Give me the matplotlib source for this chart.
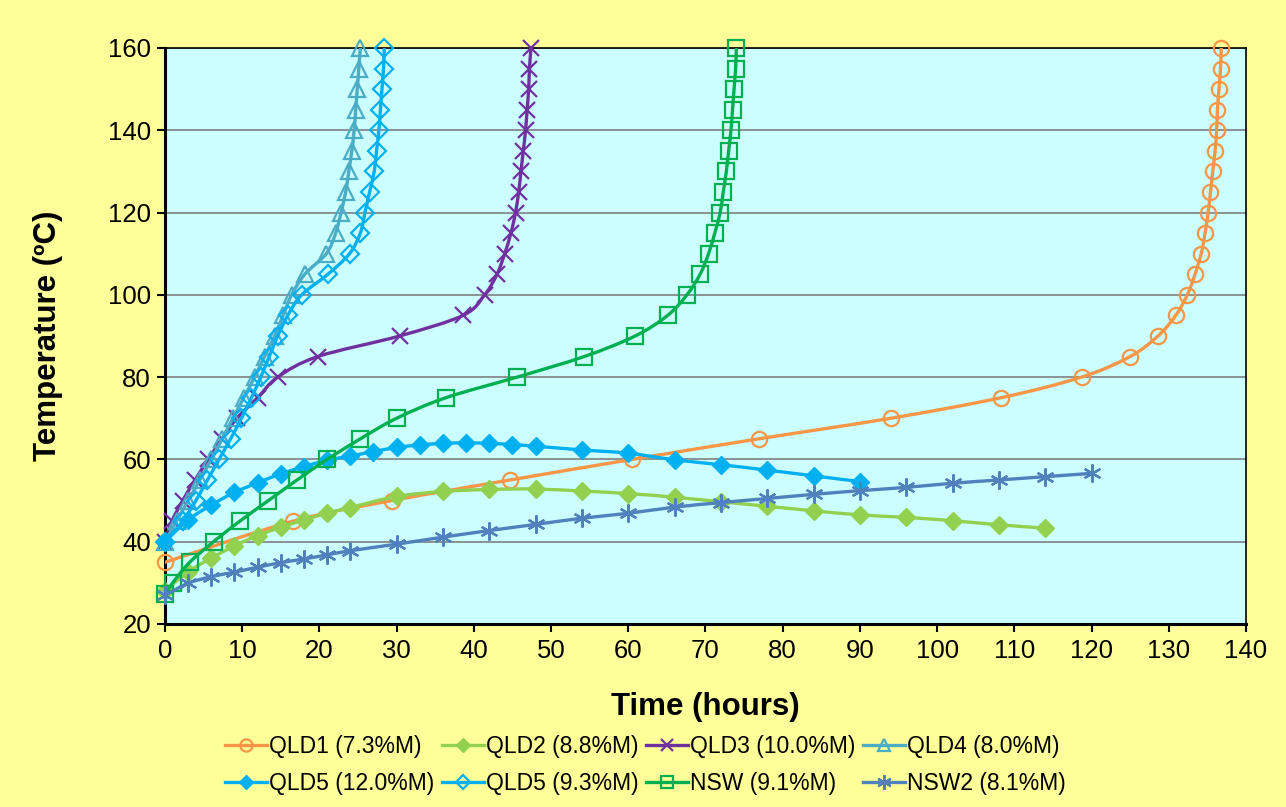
import matplotlib
matplotlib.use("Agg")
import matplotlib.pyplot as plt
from matplotlib.path import Path
from matplotlib.patches import PathPatch
from matplotlib.lines import Line2D
import numpy as np

plt.rcParams['font.family'] = ['Liberation Sans', 'DejaVu Sans']

# ---------------- data ----------------
steps_40_160 = [40, 45, 50, 55, 60, 65, 70, 75, 80, 85, 90, 95, 100, 105, 110,
                115, 120, 125, 130, 135, 140, 145, 150, 155, 160]

qld1_h = [0, 16.6, 29.4, 44.7, 60.5, 76.9, 94.0, 108.3, 118.7, 125.0, 128.6, 130.9,
          132.4, 133.4, 134.2, 134.7, 135.1, 135.4, 135.7, 136.0, 136.2, 136.3,
          136.5, 136.7, 136.8]
qld1_t = [35, 45, 50, 55, 60, 65, 70, 75, 80, 85, 90, 95, 100, 105, 110, 115, 120,
          125, 130, 135, 140, 145, 150, 155, 160]

qld2_h = [0, 3, 6, 9, 12, 15, 18, 21, 24, 30, 36, 42, 48, 54, 60, 66, 72, 78, 84,
          90, 96, 102, 108, 114]
qld2_t = [28, 32.7, 36, 39, 41.5, 43.5, 45.3, 46.9, 48.3, 51, 52.2, 52.7, 52.8,
          52.3, 51.7, 50.8, 49.7, 48.6, 47.5, 46.5, 45.9, 45.1, 44.1, 43.3]

qld3_h = [0, 0.9, 2.3, 3.9, 5.6, 7.4, 9.3, 12.0, 14.6, 19.8, 30.4, 38.6, 41.4,
          43.0, 44.0, 44.8, 45.4, 45.8, 46.1, 46.4, 46.7, 46.9, 47.1, 47.2, 47.4]
qld3_t = steps_40_160

qld4_h = [0, 1.5, 3.0, 4.5, 6.0, 7.4, 8.8, 10.2, 11.6, 12.9, 14.2, 15.3, 16.4,
          18.1, 20.9, 22.1, 22.8, 23.4, 23.8, 24.2, 24.5, 24.7, 24.9, 25.1, 25.3]
qld4_t = steps_40_160

qld5a_h = [0, 3, 6, 9, 12, 15, 18, 21, 24, 27, 30, 33, 36, 39, 42, 45, 48, 54,
           60, 66, 72, 78, 84, 90]
qld5a_t = [40, 45.3, 48.9, 52, 54.3, 56.5, 58.2, 59.8, 60.8, 61.9, 62.9, 63.5,
           63.9, 64, 63.9, 63.6, 63.2, 62.3, 61.5, 59.9, 58.7, 57.4, 56, 54.6]

qld5b_h = [0, 2.3, 4.0, 5.5, 7.0, 8.5, 9.9, 11.2, 12.4, 13.5, 14.6, 15.9, 17.7,
           21.1, 23.9, 25.3, 25.9, 26.5, 27.1, 27.4, 27.7, 27.9, 28.1, 28.3, 28.4]
qld5b_t = steps_40_160

nsw_h = [0, 1, 3.2, 6.3, 9.7, 13.4, 17.1, 21.0, 25.3, 30.0, 36.4, 45.6, 54.3,
         60.9, 65.1, 67.6, 69.3, 70.4, 71.2, 71.9, 72.3, 72.7, 73.0, 73.3, 73.5,
         73.7, 73.9, 74.0]
nsw_t = [27.3, 30] + [35, 40, 45, 50, 55, 60, 65, 70, 75, 80, 85, 90, 95, 100,
                      105, 110, 115, 120, 125, 130, 135, 140, 145, 150, 155, 160]

nsw2_h = [0, 3, 6, 9, 12, 15, 18, 21, 24, 30, 36, 42, 48, 54, 60, 66, 72, 78, 84,
          90, 96, 102, 108, 114, 120]
nsw2_t = [27, 29.9, 31.5, 32.6, 33.8, 34.9, 35.8, 36.8, 37.8, 39.4, 41.1, 42.7,
          44.2, 45.7, 46.9, 48.4, 49.5, 50.5, 51.5, 52.4, 53.2, 54.2, 55, 55.8, 56.6]

labels = ["QLD1 (7.3%M)", "QLD2 (8.8%M)", "QLD3 (10.0%M)", "QLD4 (8.0%M)",
          "QLD5 (12.0%M)", "QLD5 (9.3%M)", "NSW (9.1%M)", "NSW2 (8.1%M)"]

x_ticks = list(range(0, 141, 10))
y_ticks = list(range(20, 161, 20))

# ---------------- styles ----------------
series = [
    (qld1_h, qld1_t, dict(color="#F79646", marker="o", ms=11, mfc="none", mew=1.6)),
    (qld2_h, qld2_t, dict(color="#92D050", marker="D", ms=9, mfc="#92D050", mew=1)),
    (qld3_h, qld3_t, dict(color="#7030A0", marker="x", ms=11, mfc="none", mew=1.6)),
    (qld4_h, qld4_t, dict(color="#4BACC6", marker="^", ms=11, mfc="none", mew=1.6)),
    (qld5a_h, qld5a_t, dict(color="#00B0F0", marker="D", ms=9, mfc="#00B0F0", mew=1)),
    (qld5b_h, qld5b_t, dict(color="#00B0F0", marker="D", ms=9, mfc="none", mew=1.6)),
    (nsw_h, nsw_t, dict(color="#00B050", marker="s", ms=11, mfc="none", mew=1.6)),
    (nsw2_h, nsw2_t, dict(color="#4F81BD", marker=(6, 2, 0), ms=13, mfc="none", mew=1.6)),
]


def smooth_path(xs, ys):
    p = np.column_stack([xs, ys]).astype(float)
    n = len(p)
    verts = [p[0]]
    codes = [Path.MOVETO]
    for i in range(n - 1):
        p0 = p[i - 1] if i > 0 else p[i]
        p1 = p[i]
        p2 = p[i + 1]
        p3 = p[i + 2] if i + 2 < n else p[i + 1]
        c1 = p1 + (p2 - p0) / 6.0
        c2 = p2 - (p3 - p1) / 6.0
        verts += [c1, c2, p2]
        codes += [Path.CURVE4] * 3
    return Path(verts, codes)


fig = plt.figure(figsize=(12.86, 8.07), dpi=100, facecolor="#FFFF99")
ax = fig.add_axes([0.1283, 0.2268, 0.8406, 0.7138])
ax.set_facecolor("#CCFFFF")

handles = []
for z, ((xs, ys, st), lab) in enumerate(zip(series, labels)):
    patch = PathPatch(smooth_path(xs, ys), fill=False, edgecolor=st["color"],
                      lw=2.4, zorder=3 + z * 0.1, capstyle="round", joinstyle="round")
    ax.add_patch(patch)
    ax.plot(xs, ys, linestyle="none", marker=st["marker"], ms=st["ms"],
            mfc=st["mfc"], mec=st["color"], mew=st["mew"], zorder=3.05 + z * 0.1,
            clip_on=False)
    handles.append(Line2D([], [], color=st["color"], lw=2.4, marker=st["marker"],
                          ms=st["ms"] * 0.8, mfc=st["mfc"], mec=st["color"],
                          mew=st["mew"], label=lab))

ax.set_xlim(0, 140)
ax.set_ylim(20, 160)
ax.set_xticks(x_ticks)
ax.set_yticks(y_ticks)
ax.yaxis.grid(True, color="#808080", lw=1.2, zorder=1)
ax.set_axisbelow(True)
ax.tick_params(axis="both", labelsize=18.5, direction="out", length=6, width=1.5,
               colors="black")
ax.tick_params(axis="x", pad=5)
ax.tick_params(axis="y", pad=4)
for s in ax.spines.values():
    s.set_color("black")
    s.set_linewidth(1.2)
ax.spines["left"].set_linewidth(2.2)
ax.spines["bottom"].set_linewidth(2.2)

ax.set_xlabel("Time (hours)", fontsize=22.5, fontweight="bold")
ax.set_ylabel("Temperature (ºC)", fontsize=22.5, fontweight="bold")
ax.xaxis.set_label_coords(0.5, -0.118)
ax.yaxis.set_label_coords(-0.094, 0.5)

order = [0, 4, 1, 5, 2, 6, 3, 7]
fig.legend([handles[i] for i in order], [labels[i] for i in order],
           loc="center", bbox_to_anchor=(0.502, 0.052), ncol=4, frameon=False,
           fontsize=16.5, handlelength=1.8, handletextpad=0.1, columnspacing=0.35,
           labelspacing=0.6, borderpad=0.2)

fig.savefig("out.png", dpi=100, facecolor=fig.get_facecolor())
